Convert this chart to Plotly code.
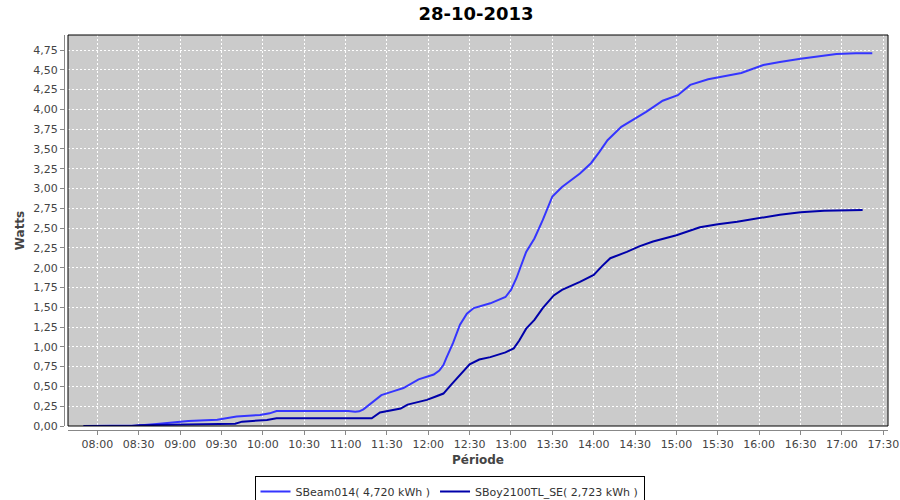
import plotly.graph_objects as go

DAY = "2013-10-28"

sbeam_times = ["07:50", "08:25", "08:30", "08:43", "08:55", "09:06", "09:27", "09:41", "09:58", "10:05",
               "10:10", "11:02", "11:07", "11:10", "11:13", "11:20", "11:26", "11:35", "11:42", "11:53",
               "12:04", "12:08", "12:11", "12:13", "12:18", "12:23", "12:28", "12:33", "12:45", "12:56",
               "13:00", "13:04", "13:11", "13:17", "13:23", "13:30", "13:37", "13:50", "13:58", "14:04",
               "14:10", "14:20", "14:31", "14:38", "14:45", "14:50", "15:01", "15:10", "15:23", "15:35",
               "15:47", "16:03", "16:15", "16:30", "16:45", "16:56", "17:10", "17:22"]
sbeam_values = [0.00, 0.00, 0.005, 0.025, 0.045, 0.063, 0.08, 0.12, 0.14, 0.16,
                0.19, 0.19, 0.18, 0.185, 0.21, 0.31, 0.39, 0.44, 0.48, 0.59,
                0.65, 0.70, 0.77, 0.855, 1.05, 1.28, 1.42, 1.49, 1.55, 1.63,
                1.72, 1.87, 2.20, 2.37, 2.60, 2.90, 3.02, 3.19, 3.32, 3.46,
                3.61, 3.78, 3.89, 3.97, 4.05, 4.11, 4.18, 4.31, 4.38, 4.42,
                4.46, 4.56, 4.60, 4.64, 4.67, 4.70, 4.71, 4.71]

sboy_times = ["07:50", "08:25", "08:30", "09:06", "09:40", "09:45", "10:03", "10:10", "11:19", "11:25",
              "11:33", "11:40", "11:45", "11:59", "12:05", "12:11", "12:17", "12:23", "12:30", "12:37",
              "12:45", "12:56", "13:02", "13:06", "13:11", "13:17", "13:23", "13:31", "13:37", "13:50",
              "14:00", "14:06", "14:12", "14:24", "14:33", "14:43", "15:00", "15:17", "15:30", "15:44",
              "16:01", "16:15", "16:30", "16:47", "17:15"]
sboy_values = [0.00, 0.00, 0.01, 0.02, 0.03, 0.055, 0.076, 0.097, 0.097, 0.17,
               0.20, 0.22, 0.27, 0.33, 0.37, 0.41, 0.53, 0.64, 0.78, 0.84,
               0.87, 0.93, 0.98, 1.08, 1.23, 1.34, 1.49, 1.65, 1.72, 1.82,
               1.91, 2.02, 2.12, 2.20, 2.27, 2.33, 2.41, 2.51, 2.55, 2.58,
               2.63, 2.67, 2.70, 2.72, 2.73]

series_names = ["SBeam014( 4,720 kWh )", "SBoy2100TL_SE( 2,723 kWh )"]
title_text = "28-10-2013"
x_title = "Période"
y_title = "Watts"

def stamp(ts):
    return [f"{DAY} {t}:00" for t in ts]

fig = go.Figure()
fig.add_trace(go.Scatter(x=stamp(sbeam_times), y=sbeam_values, mode="lines",
                         name=series_names[0], line=dict(color="#3535ff", width=2)))
fig.add_trace(go.Scatter(x=stamp(sboy_times), y=sboy_values, mode="lines",
                         name=series_names[1], line=dict(color="#0000aa", width=2)))

tick_font = dict(family="DejaVu Sans", size=11, color="#444444")
title_font = dict(family="DejaVu Sans", size=12, color="#444444", weight="bold")

fig.update_layout(
    width=900, height=500,
    margin=dict(l=64, r=12, t=35, b=70, autoexpand=False),
    paper_bgcolor="white",
    plot_bgcolor="#cbcbcb",
    separators=",.",
    title=dict(text=title_text, x=0.5, xanchor="center", xref="paper",
               y=1 - 14 / 500, yref="container", yanchor="middle",
               font=dict(family="DejaVu Sans", size=18, color="black", weight="bold")),
    xaxis=dict(
        type="date", domain=[4 / 824, 1], anchor="free", position=0, automargin=False,
        range=[f"{DAY} 07:38:45", f"{DAY} 17:33:24"],
        tick0=f"{DAY} 08:00:00", dtick=30 * 60 * 1000, tickformat="%H:%M",
        ticks="outside", ticklen=4, tickcolor="#888888",
        showline=True, linecolor="#888888", linewidth=1,
        showgrid=True, gridcolor="white", gridwidth=1, griddash="2px,2px",
        zeroline=False, tickfont=tick_font,
        title=dict(text=x_title, font=title_font, standoff=5),
    ),
    yaxis=dict(
        domain=[4 / 395, 1], anchor="free", position=0, automargin=False,
        range=[0, 4.94], tick0=0, dtick=0.25, tickformat=".2f",
        ticks="outside", ticklen=4, tickcolor="#888888",
        showline=True, linecolor="#888888", linewidth=1,
        showgrid=True, gridcolor="white", gridwidth=1, griddash="2px,2px",
        zeroline=False, tickfont=tick_font,
        title=dict(text=y_title, font=title_font, standoff=5),
    ),
    legend=dict(orientation="h", xref="container", yref="container",
                x=449.5 / 900, xanchor="center",
                y=1 - 476 / 500, yanchor="top",
                bordercolor="black", borderwidth=1, bgcolor="white",
                font=dict(family="DejaVu Sans", size=11, color="#333333"),
                itemwidth=30, tracegroupgap=0),
    showlegend=True,
)

fig.add_shape(type="rect", xref="x domain", yref="y domain", x0=0, x1=1, y0=0, y1=1,
              line=dict(color="black", width=1), fillcolor="rgba(0,0,0,0)", layer="above")

fig.write_html("out.html", config={"displayModeBar": False},
               post_script="document.body.style.margin='0';document.body.style.overflow='hidden';")
